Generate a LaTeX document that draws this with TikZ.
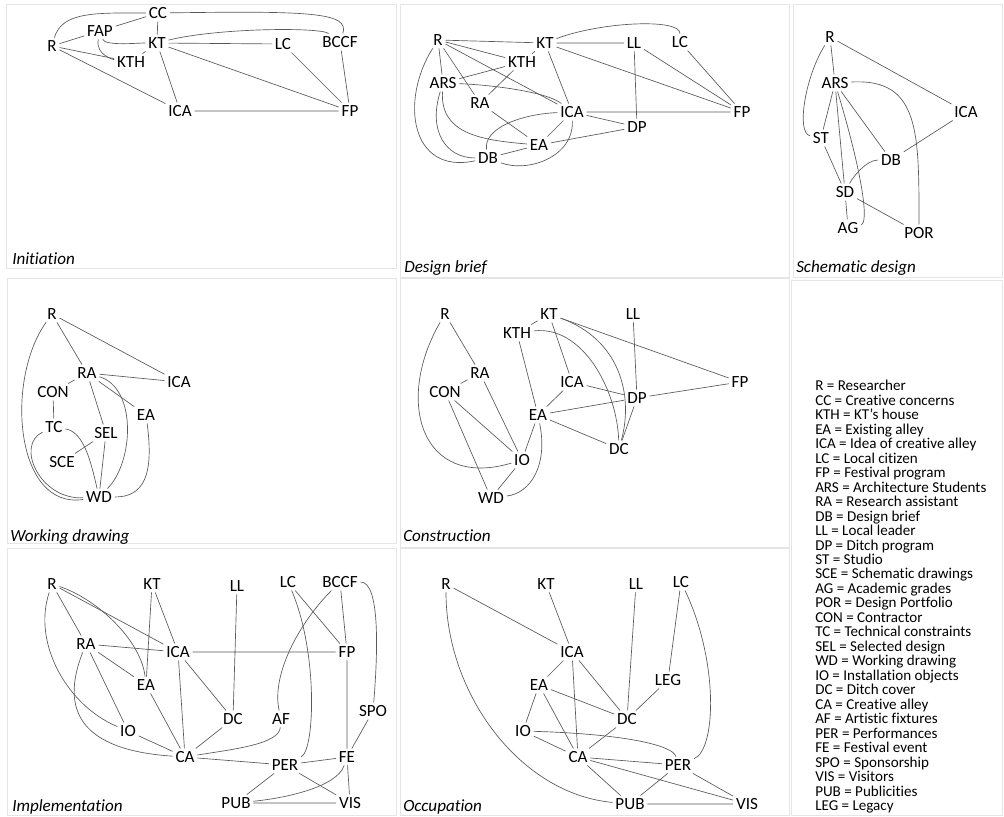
\documentclass[tikz,border=0pt]{standalone}
\usepackage{fontspec}
\setmainfont{Carlito}[Ligatures=NoCommon]
\usetikzlibrary{positioning}

\begin{document}
\begin{tikzpicture}[
    x=0.75pt, y=0.75pt,
    actor/.style={inner sep=2pt, font=\fontsize{12.8}{14}\selectfont},
    stage/.style={anchor=base west, inner sep=0pt, font=\fontsize{12.8}{14}\selectfont\itshape},
    link/.style={draw=black!65, line width=0.5pt},
    panel/.style={draw=black!10, line width=0.6pt}
]
\useasboundingbox (0,0) rectangle (1004,-817);

% Panel frames
\draw[panel] (6,-4) rectangle (396,-268);
\draw[panel] (400,-4) rectangle (789,-277);
\draw[panel] (793,-4) rectangle (1002,-277);
\draw[panel] (7,-278) rectangle (396,-543);
\draw[panel] (400,-278) rectangle (789,-547);
\draw[panel] (791,-280) rectangle (1002,-815);
\draw[panel] (7,-548) rectangle (396,-815);
\draw[panel] (400,-548) rectangle (789,-815);

% Initiation
\node[actor] (iCC) at (158,-13) {CC};
\node[actor] (iFAP) at (100,-31) {FAP};
\node[actor] (iR) at (52,-46) {R};
\node[actor] (iKT) at (157,-43) {KT};
\node[actor] (iKTH) at (131,-62) {KTH};
\node[actor] (iLC) at (283,-44) {LC};
\node[actor] (iBCCF) at (340,-42) {BCCF};
\node[actor] (iICA) at (180,-111) {ICA};
\node[actor] (iFP) at (350,-111) {FP};
\node[stage] (tInit) at (12,-264) {Initiation};

\draw[link] (iR) -- (iFAP) (iFAP) -- (iCC) (iCC) -- (iKT) (iKTH) -- (iKT)
  (iR) -- (iKTH) (iR) -- (iICA) (iKT) -- (iICA) (iKT) -- (iLC)
  (iKT) -- (iFP) (iLC) -- (iFP) (iBCCF) -- (iFP) (iICA) -- (iFP);
\draw[link] (iR) .. controls +(10,35) and +(-60,0) .. (iCC);
\draw[link] (iCC) .. controls +(150,2) and +(10,30) .. (iBCCF);
\draw[link] (iKT) .. controls +(60,15) and +(-20,15) .. (iBCCF);
\draw[link] (iFAP) .. controls +(5,-15) and +(-20,0) .. (iKT);
\draw[link] (iFAP) .. controls +(-5,-25) and +(-15,2) .. (iKTH);

% Design brief
\node[actor] (bR) at (438,-40) {R};
\node[actor] (bKT) at (545,-43) {KT};
\node[actor] (bLL) at (634,-43) {LL};
\node[actor] (bLC) at (680,-42) {LC};
\node[actor] (bKTH) at (522,-62) {KTH};
\node[actor] (bARS) at (443,-83) {ARS};
\node[actor] (bRA) at (480,-103) {RA};
\node[actor] (bICA) at (572,-112) {ICA};
\node[actor] (bFP) at (742,-112) {FP};
\node[actor] (bDP) at (637,-127) {DP};
\node[actor] (bEA) at (539,-145) {EA};
\node[actor] (bDB) at (488,-158) {DB};
\node[stage] (tBrief) at (404,-272) {Design brief};

\draw[link] (bR) -- (bKT) (bR) -- (bKTH) (bR) -- (bICA) (bR) -- (bRA) (bR) -- (bARS)
  (bARS) -- (bKTH) (bKTH) -- (bKT) (bKTH) -- (bRA) (bRA) -- (bEA)
  (bKT) -- (bLL) (bKT) -- (bFP) (bKT) -- (bICA) (bLL) -- (bFP) (bLL) -- (bDP)
  (bLC) -- (bFP) (bICA) -- (bFP) (bICA) -- (bDP) (bICA) -- (bEA)
  (bEA) -- (bDB) (bEA) -- (bDP);
\draw[link] (bR) .. controls +(-38,-60) and +(-78,-17) .. (bDB);
\draw[link] (bARS) .. controls +(-15,-47) and +(-43,0) .. (bDB);
\draw[link] (bARS) .. controls +(-3,-50) and +(-60,5) .. (bEA);
\draw[link] (bARS) .. controls +(50,-2) and +(-25,20) .. (bICA);
\draw[link] (bKT) .. controls +(55,21) and +(0,24) .. (bLC);
\draw[link] (bICA) .. controls +(-50,-2) and +(-5,30) .. (bDB);
\draw[link] (bICA) .. controls +(2,-45) and +(40,-15) .. (bDB);

% Schematic design
\node[actor] (sR) at (830,-37) {R};
\node[actor] (sARS) at (835,-83) {ARS};
\node[actor] (sICA) at (966,-112) {ICA};
\node[actor] (sST) at (821,-138) {ST};
\node[actor] (sDB) at (891,-160) {DB};
\node[actor] (sSD) at (845,-192) {SD};
\node[actor] (sAG) at (848,-228) {AG};
\node[actor] (sPOR) at (919,-233) {POR};
\node[stage] (tSchem) at (796,-272) {Schematic design};

\draw[link] (sR) -- (sARS) (sR) -- (sICA) (sARS) -- (sST) (sARS) -- (sSD)
  (sARS) -- (sDB) (sST) -- (sSD) (sICA) -- (sDB) (sSD) -- (sAG) (sSD) -- (sPOR);
\draw[link] (sR) .. controls +(-25,-40) and +(-25,5) .. (sST);
\draw[link] (sARS) .. controls +(30,-100) and +(20,5) .. (sAG);
\draw[link] (sARS) .. controls +(85,5) and +(0,100) .. (sPOR);
\draw[link] (sDB) .. controls +(-25,0) and +(8,15) .. (sSD);

% Working drawing
\node[actor] (wR) at (52,-314) {R};
\node[actor] (wRA) at (87,-373) {RA};
\node[actor] (wICA) at (179,-382) {ICA};
\node[actor] (wCON) at (53,-392) {CON};
\node[actor] (wEA) at (146,-415) {EA};
\node[actor] (wTC) at (54,-427) {TC};
\node[actor] (wSEL) at (106,-433) {SEL};
\node[actor] (wSCE) at (62,-462) {SCE};
\node[actor] (wWD) at (99,-497) {WD};
\node[stage] (tWork) at (10,-541) {Working drawing};

\draw[link] (wR) -- (wRA) (wR) -- (wICA) (wRA) -- (wCON) (wRA) -- (wICA)
  (wRA) -- (wEA) (wRA) -- (wSEL) (wCON) -- (wTC) (wSEL) -- (wSCE) (wSEL) -- (wWD);
\draw[link] (wR) .. controls +(-47,-66) and +(-84,-13) .. (wWD);
\draw[link] (wTC) .. controls +(-39,-18) and +(-59,-3) .. (wWD);
\draw[link] (wTC) .. controls +(30,-5) and +(-8,35) .. (wWD);
\draw[link] (wRA) .. controls +(50,-15) and +(35,35) .. (wWD);
\draw[link] (wEA) .. controls +(8,-60) and +(45,0) .. (wWD);

% Construction
\node[actor] (cR) at (445,-314) {R};
\node[actor] (cKT) at (549,-314) {KT};
\node[actor] (cLL) at (633,-314) {LL};
\node[actor] (cKTH) at (517,-333) {KTH};
\node[actor] (cRA) at (480,-373) {RA};
\node[actor] (cCON) at (445,-392) {CON};
\node[actor] (cICA) at (572,-382) {ICA};
\node[actor] (cFP) at (740,-382) {FP};
\node[actor] (cDP) at (637,-398) {DP};
\node[actor] (cEA) at (538,-415) {EA};
\node[actor] (cDC) at (619,-449) {DC};
\node[actor] (cIO) at (522,-460) {IO};
\node[actor] (cWD) at (491,-498) {WD};
\node[stage] (tBuild) at (403,-541) {Construction};

\draw[link] (cR) -- (cRA) (cRA) -- (cCON) (cRA) -- (cIO) (cCON) -- (cIO)
  (cCON) -- (cWD) (cIO) -- (cWD) (cIO) -- (cEA) (cKT) -- (cKTH) (cKT) -- (cICA)
  (cKT) -- (cFP) (cKTH) -- (cEA) (cLL) -- (cDP) (cICA) -- (cDP) (cICA) -- (cEA)
  (cEA) -- (cDP) (cEA) -- (cDC) (cDP) -- (cFP) (cDP) -- (cDC);
\draw[link] (cR) .. controls +(-50,-86) and +(-102,-30) .. (cIO);
\draw[link] (cEA) .. controls +(10,-50) and +(40,5) .. (cWD);
\draw[link] (cKT) .. controls +(70,-25) and +(15,55) .. (cDC);
\draw[link] (cKTH) .. controls +(65,8) and +(-2,60) .. (cDC);

% Implementation
\node[actor] (mR) at (52,-584) {R};
\node[actor] (mKT) at (152,-584) {KT};
\node[actor] (mLL) at (237,-586) {LL};
\node[actor] (mLC) at (288,-582) {LC};
\node[actor] (mBCCF) at (340,-582) {BCCF};
\node[actor] (mRA) at (86,-644) {RA};
\node[actor] (mICA) at (178,-652) {ICA};
\node[actor] (mFP) at (347,-652) {FP};
\node[actor] (mEA) at (146,-685) {EA};
\node[actor] (mDC) at (233,-719) {DC};
\node[actor] (mAF) at (281,-719) {AF};
\node[actor] (mSPO) at (373,-711) {SPO};
\node[actor] (mIO) at (128,-731) {IO};
\node[actor] (mCA) at (185,-757) {CA};
\node[actor] (mFE) at (347,-757) {FE};
\node[actor] (mPER) at (285,-765) {PER};
\node[actor] (mPUB) at (236,-803) {PUB};
\node[actor] (mVIS) at (350,-803) {VIS};
\node[stage] (tImpl) at (12,-811) {Implementation};

\draw[link] (mR) -- (mRA) (mR) -- (mICA) (mRA) -- (mICA) (mRA) -- (mEA) (mRA) -- (mIO)
  (mKT) -- (mEA) (mKT) -- (mICA) (mLL) -- (mDC) (mLC) -- (mFP) (mBCCF) -- (mFP)
  (mICA) -- (mFP) (mICA) -- (mDC) (mICA) -- (mCA) (mEA) -- (mCA) (mDC) -- (mCA)
  (mIO) -- (mCA) (mCA) -- (mPER) (mFP) -- (mFE) (mSPO) -- (mFE) (mFE) -- (mPER)
  (mFE) -- (mVIS) (mPER) -- (mPUB) (mPER) -- (mVIS) (mPUB) -- (mVIS);
\draw[link] (mR) .. controls +(45,-15) and +(-5,45) .. (mEA);
\draw[link] (mR) .. controls +(-20,-60) and +(-60,25) .. (mIO);
\draw[link] (mRA) .. controls +(-26,-66) and +(-105,7) .. (mCA);
\draw[link] (mLC) .. controls +(30,-70) and +(30,15) .. (mPER);
\draw[link] (mBCCF) .. controls +(-40,-40) and +(-10,45) .. (mAF);
\draw[link] (mBCCF) .. controls +(40,0) and +(5,60) .. (mSPO);
\draw[link] (mAF) .. controls +(-2,-25) and +(50,8) .. (mCA);
\draw[link] (mFE) .. controls +(-10,-30) and +(50,5) .. (mPUB);

% Occupation
\node[actor] (oR) at (446,-584) {R};
\node[actor] (oKT) at (546,-584) {KT};
\node[actor] (oLL) at (636,-584) {LL};
\node[actor] (oLC) at (681,-582) {LC};
\node[actor] (oICA) at (572,-652) {ICA};
\node[actor] (oLEG) at (668,-680) {LEG};
\node[actor] (oEA) at (539,-685) {EA};
\node[actor] (oDC) at (627,-719) {DC};
\node[actor] (oIO) at (523,-731) {IO};
\node[actor] (oCA) at (578,-757) {CA};
\node[actor] (oPER) at (678,-765) {PER};
\node[actor] (oPUB) at (630,-804) {PUB};
\node[actor] (oVIS) at (747,-804) {VIS};
\node[stage] (tOccu) at (403,-811) {Occupation};

\draw[link] (oR) -- (oICA) (oKT) -- (oICA) (oLL) -- (oDC) (oLC) -- (oLEG)
  (oICA) -- (oEA) (oICA) -- (oCA) (oICA) -- (oDC) (oLEG) -- (oDC) (oEA) -- (oDC)
  (oEA) -- (oIO) (oEA) -- (oCA) (oDC) -- (oCA) (oIO) -- (oCA) (oCA) -- (oPER)
  (oCA) -- (oPUB) (oCA) -- (oVIS) (oPER) -- (oPUB) (oPER) -- (oVIS) (oPUB) -- (oVIS);
\draw[link] (oR) .. controls +(0,-110) and +(-110,10) .. (oPUB);
\draw[link] (oLC) .. controls +(38,-80) and +(38,15) .. (oPER);
\draw[link] (oIO) .. controls +(100,-3) and +(-5,20) .. (oPER);

% Legend
\node[anchor=north west, inner sep=0pt, align=left,
      font=\fontsize{11.3}{10.86}\selectfont] (legend) at (815,-380) {
R = Researcher\\
CC = Creative concerns\\
KTH = KT’s house\\
EA = Existing alley\\
ICA = Idea of creative alley\\
LC = Local citizen\\
FP = Festival program\\
ARS = Architecture Students\\
RA = Research assistant\\
DB = Design brief\\
LL = Local leader\\
DP = Ditch program\\
ST = Studio\\
SCE = Schematic drawings\\
AG = Academic grades\\
POR = Design Portfolio\\
CON = Contractor\\
TC = Technical constraints\\
SEL = Selected design\\
WD = Working drawing\\
IO = Installation objects\\
DC = Ditch cover\\
CA = Creative alley\\
AF = Artistic fixtures\\
PER = Performances\\
FE = Festival event\\
SPO = Sponsorship\\
VIS = Visitors\\
PUB = Publicities\\
LEG = Legacy
};

\end{tikzpicture}
\end{document}
